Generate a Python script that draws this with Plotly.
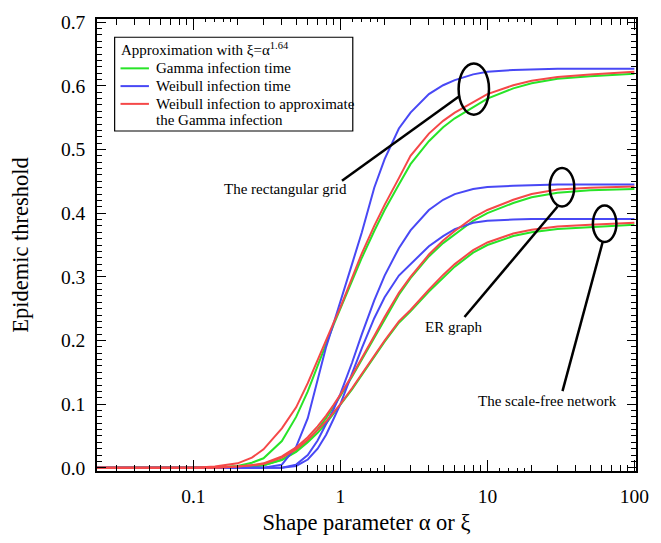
import math
import plotly.graph_objects as go

# ---------------- data ----------------
shape = [0.02, 0.05, 0.1, 0.14, 0.2, 0.25, 0.3, 0.4, 0.5, 0.6, 0.7, 0.8, 0.9, 1.0,
         1.2, 1.4, 1.7, 2.0, 2.5, 3.0, 4.0, 5.0, 6.0, 8.0, 10, 15, 20, 30, 50, 100]

# rectangular grid
grid_gamma = [0, 0, 0, 0.0005, 0.003, 0.008, 0.015, 0.042, 0.08, 0.12, 0.16, 0.195, 0.225, 0.25,
              0.295, 0.33, 0.372, 0.405, 0.445, 0.477, 0.513, 0.535, 0.549, 0.567, 0.58, 0.596, 0.604, 0.611, 0.615, 0.619]
grid_weibull = [0, 0, 0, 0, 0, 0, 0, 0.005, 0.033, 0.078, 0.137, 0.19, 0.227, 0.26,
                0.32, 0.37, 0.44, 0.485, 0.533, 0.558, 0.587, 0.601, 0.609, 0.618, 0.622, 0.625, 0.626, 0.627, 0.627, 0.627]
grid_approx = [0, 0, 0, 0.002, 0.007, 0.016, 0.029, 0.062, 0.095, 0.133, 0.168, 0.2, 0.228, 0.252,
               0.298, 0.337, 0.38, 0.413, 0.455, 0.49, 0.525, 0.545, 0.558, 0.575, 0.587, 0.601, 0.608, 0.614, 0.618, 0.622]

# ER graph
er_gamma = [0, 0, 0, 0, 0.001, 0.002, 0.004, 0.013, 0.026, 0.043, 0.06, 0.078, 0.096, 0.113,
            0.143, 0.17, 0.205, 0.234, 0.272, 0.298, 0.332, 0.353, 0.367, 0.388, 0.4, 0.416, 0.425, 0.432, 0.436, 0.438]
er_weibull = [0, 0, 0, 0, 0, 0, 0, 0, 0.005, 0.02, 0.043, 0.068, 0.092, 0.116,
              0.165, 0.21, 0.263, 0.302, 0.345, 0.373, 0.405, 0.421, 0.43, 0.438, 0.441, 0.443, 0.444, 0.445, 0.445, 0.445]
er_approx = [0, 0, 0, 0.0003, 0.002, 0.004, 0.007, 0.018, 0.032, 0.048, 0.065, 0.082, 0.099, 0.115,
             0.145, 0.172, 0.207, 0.237, 0.275, 0.3, 0.335, 0.357, 0.372, 0.393, 0.405, 0.421, 0.43, 0.437, 0.44, 0.442]

# scale-free network
sf_gamma = [0, 0, 0, 0, 0.001, 0.002, 0.004, 0.012, 0.025, 0.04, 0.055, 0.07, 0.085, 0.098,
            0.123, 0.146, 0.175, 0.198, 0.228, 0.246, 0.277, 0.299, 0.316, 0.338, 0.35, 0.364, 0.37, 0.375, 0.378, 0.382]
sf_weibull = [0, 0, 0, 0, 0, 0, 0, 0, 0.003, 0.013, 0.03, 0.052, 0.077, 0.1,
              0.148, 0.188, 0.235, 0.268, 0.302, 0.32, 0.348, 0.364, 0.375, 0.385, 0.388, 0.39, 0.391, 0.391, 0.391, 0.391]
sf_approx = [0, 0, 0, 0.0003, 0.002, 0.004, 0.006, 0.016, 0.029, 0.044, 0.059, 0.073, 0.087, 0.1,
             0.125, 0.148, 0.177, 0.2, 0.23, 0.248, 0.28, 0.303, 0.32, 0.342, 0.354, 0.368, 0.374, 0.379, 0.382, 0.385]

x_tick_vals = [0.1, 1, 10, 100]
x_tick_text = ["0.1", "1", "10", "100"]

legend_title = "Approximation with ξ=α<sup>1.64</sup>"
legend_names = ["Gamma infection time", "Weibull infection time",
                ["Weibull infection to approximate", "the Gamma infection"]]

GREEN = "rgb(40,228,40)"
BLUE = "rgb(72,72,245)"
RED = "rgb(245,72,72)"
FONT = "Liberation Serif, Times New Roman, DejaVu Serif, serif"

# ---------------- geometry helpers (layout only) ----------------
W, H = 661, 543
L, R, T, B = 97, 14, 13, 72
PW, PH = W - L - R, H - T - B


def px(xp):
    return (xp - L) / PW


def py(yp):
    return (H - B - yp) / PH


fig = go.Figure()

series = [
    ("Gamma infection time", GREEN, [grid_gamma, er_gamma, sf_gamma]),
    ("Weibull infection time", BLUE, [grid_weibull, er_weibull, sf_weibull]),
    ("Weibull infection to approximate the Gamma infection", RED, [grid_approx, er_approx, sf_approx]),
]
for name, color, curves in series:
    for i, ys in enumerate(curves):
        fig.add_trace(go.Scatter(
            x=shape, y=ys, mode="lines", name=name, legendgroup=name,
            showlegend=False, line=dict(color=color, width=2),
            hoverinfo="skip"))

# invisible trace carrying the secondary tick axis
fig.add_trace(go.Scatter(x=[1], y=[None], xaxis="x2", mode="lines",
                         showlegend=False, hoverinfo="skip"))

minor_vals = []
for d in [0.01, 0.1, 1, 10]:
    for k in range(2, 10):
        minor_vals.append(k * d)
extra_vals = []
for d in [0.01, 0.1, 1, 10]:
    for k in [1.2, 1.4, 1.6, 1.8]:
        extra_vals.append(k * d)

xr = [math.log10(0.0221), 2.011]
tickfont = dict(family=FONT, size=19.5, color="black")

fig.update_layout(
    width=W, height=H,
    margin=dict(l=L, r=R, t=T, b=B),
    paper_bgcolor="white", plot_bgcolor="white",
    font=dict(family=FONT, color="black"),
    showlegend=False,
    xaxis=dict(
        type="log", range=xr, tickvals=x_tick_vals, ticktext=x_tick_text,
        ticks="inside", ticklen=11, tickwidth=1.2, tickcolor="black",
        showline=True, linecolor="black", linewidth=1.5, mirror="ticks",
        showgrid=False, zeroline=False, tickfont=tickfont, ticklabelstandoff=7,
        minor=dict(tickvals=minor_vals, ticks="inside", ticklen=6, tickwidth=1.2,
                   tickcolor="black", showgrid=False),
        title=dict(text="Shape parameter α or ξ", font=dict(family=FONT, size=22.5), standoff=8),
    ),
    xaxis2=dict(
        type="log", range=xr, overlaying="x", anchor="y", side="bottom",
        tickvals=extra_vals, ticks="inside", ticklen=3.5, tickwidth=1.2, tickcolor="black",
        showticklabels=False, showline=True, linecolor="black", linewidth=1.5,
        mirror="ticks", showgrid=False, zeroline=False,
    ),
    yaxis=dict(
        range=[-0.005, 0.705], dtick=0.1, tick0=0, tickformat=".1f",
        ticks="inside", ticklen=9, tickwidth=1.2, tickcolor="black",
        showline=True, linecolor="black", linewidth=1.5, mirror="ticks",
        showgrid=False, zeroline=False, tickfont=tickfont, ticklabelstandoff=6,
        minor=dict(dtick=0.01, tick0=0, ticks="inside", ticklen=5, tickwidth=1.2,
                   tickcolor="black", showgrid=False),
        title=dict(text="Epidemic threshold", font=dict(family=FONT, size=22.5), standoff=26),
    ),
)

# ---------------- hand-built legend box ----------------
fig.add_shape(type="rect", xref="paper", yref="paper",
              x0=px(115), x1=px(358), y0=py(126.5), y1=py(31.5),
              line=dict(color="black", width=1.2), fillcolor="white", layer="above")
fig.add_annotation(text=legend_title, xref="paper", yref="paper", x=px(119), y=py(43),
                   xanchor="left", yanchor="middle", showarrow=False,
                   font=dict(family=FONT, size=15, color="black"))
legend_rows = [(GREEN, 63, [legend_names[0]]), (BLUE, 81, [legend_names[1]]),
               (RED, 99, legend_names[2])]
for color, yrow, texts in legend_rows:
    fig.add_shape(type="line", xref="paper", yref="paper",
                  x0=px(121), x1=px(150), y0=py(yrow), y1=py(yrow),
                  line=dict(color=color, width=2), layer="above")
    for j, t in enumerate(texts):
        fig.add_annotation(text=t, xref="paper", yref="paper", x=px(155.5), y=py(yrow + 16.5 * j),
                           xanchor="left", yanchor="middle", showarrow=False,
                           font=dict(family=FONT, size=15, color="black"))

# ---------------- ellipses, pointers and labels ----------------
ellipses = [(481.5, 84, 15.5, 26), (571.5, 183.5, 12.5, 19.5), (615, 220.5, 12, 18.5)]
for cx, cy, rx, ry in ellipses:
    fig.add_shape(type="circle", xref="paper", yref="paper",
                  x0=px(cx - rx), x1=px(cx + rx), y0=py(cy + ry), y1=py(cy - ry),
                  line=dict(color="black", width=2.5))
pointers = [((347, 177), (467, 91)), ((472, 315), (567, 203)), ((572, 390), (613, 239))]
for (x0, y0), (x1, y1) in pointers:
    fig.add_shape(type="line", xref="paper", yref="paper",
                  x0=px(x0), y0=py(y0), x1=px(x1), y1=py(y1),
                  line=dict(color="black", width=2.5))

labels = [("The rectangular grid", 289, 185), ("ER graph", 461.5, 325),
          ("The scale-free network", 557, 400)]
for text, cx, cy in labels:
    fig.add_annotation(text=text, xref="paper", yref="paper", x=px(cx), y=py(cy),
                       xanchor="center", yanchor="middle", showarrow=False,
                       font=dict(family=FONT, size=15, color="black"))

fig.write_html("out.html")
